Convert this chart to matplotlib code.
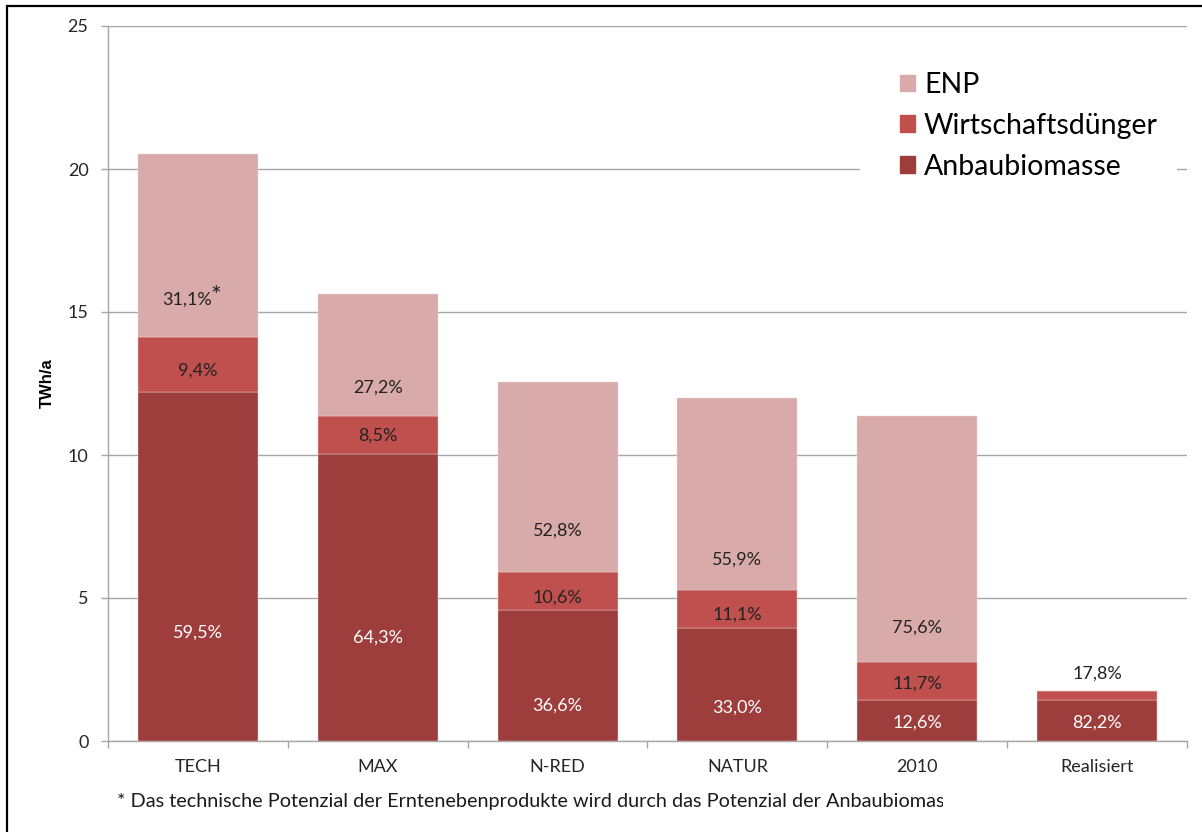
import matplotlib
matplotlib.use("Agg")
import matplotlib.pyplot as plt
from matplotlib.patches import Rectangle, Patch

plt.rcParams['font.family'] = ['Lato', 'DejaVu Sans']

# ---- data ----
categories = ["TECH", "MAX", "N-RED", "NATUR", "2010", "Realisiert"]
anbau = [12.21, 10.05, 4.59, 3.96, 1.43, 1.44]
wirt = [1.93, 1.33, 1.33, 1.33, 1.33, 0.31]
enp = [6.38, 4.25, 6.63, 6.70, 8.59, 0.0]

anbau_lbl = ["59,5%", "64,3%", "36,6%", "33,0%", "12,6%", "82,2%"]
wirt_lbl = ["9,4%", "8,5%", "10,6%", "11,1%", "11,7%", "17,8%"]
enp_lbl = ["31,1%", "27,2%", "52,8%", "55,9%", "75,6%", ""]

# label heights (data units) as placed in the original
anbau_lbl_y = [3.78, 3.60, 1.22, 1.15, 0.63, 0.63]
wirt_lbl_y = [12.94, 10.66, 5.03, 4.41, 1.99, 2.34]
enp_lbl_y = [15.42, 12.34, 7.34, 6.33, 3.95, 0]

legend_names = ["ENP", "Wirtschaftsdünger", "Anbaubiomasse"]
c_anbau, c_wirt, c_enp = "#9E3E3C", "#C0504D", "#D9AAAA"
footnote = "* Das technische Potenzial der Erntenebenprodukte wird durch das Potenzial der Anbaubiomasse begrenzt."

W, H = 1202, 832
AX_L, AX_R, AX_T, AX_B = 108, 1187, 26, 741
fig = plt.figure(figsize=(W / 100, H / 100), dpi=100)
ax = fig.add_axes([AX_L / W, 1 - AX_B / H, (AX_R - AX_L) / W, (AX_B - AX_T) / H])

x = list(range(len(categories)))
bw = 0.667
ec, elw = "#EBD5D5", 0.3
ax.bar(x, anbau, bw, color=c_anbau, edgecolor=ec, linewidth=elw, zorder=3)
ax.bar(x, wirt, bw, bottom=anbau, color=c_wirt, edgecolor=ec, linewidth=elw, zorder=3)
bottom3 = [a + w for a, w in zip(anbau, wirt)]
ax.bar(x, enp, bw, bottom=bottom3, color=c_enp, edgecolor=ec, linewidth=elw, zorder=3)

fs_lbl = 13
dark = "#222222"
for i in x:
    ax.text(i, anbau_lbl_y[i], anbau_lbl[i], ha="center", va="center", color="white", fontsize=fs_lbl, zorder=5)
    ax.text(i, wirt_lbl_y[i], wirt_lbl[i], ha="center", va="center", color=dark, fontsize=fs_lbl, zorder=5)
    if enp_lbl[i]:
        xi = i - 0.06 if i == 0 else i
        t = ax.text(xi, enp_lbl_y[i], enp_lbl[i], ha="center", va="center", color=dark, fontsize=fs_lbl, zorder=5)
        if i == 0:
            ax.annotate("*", xy=(1, 0.5), xycoords=t, xytext=(-1, 2.5), textcoords="offset points",
                        ha="left", va="center", fontsize=18, color=dark, zorder=5)

ax.set_xlim(-0.5, len(categories) - 0.5)
ax.set_ylim(0, 25)
ax.set_yticks([0, 5, 10, 15, 20, 25])
ax.yaxis.grid(True, color="#A6A6A6", linewidth=1.0, zorder=0)
ax.set_axisbelow(True)
for s in ["top", "right"]:
    ax.spines[s].set_visible(False)
for s in ["left", "bottom"]:
    ax.spines[s].set_color("#A6A6A6")
    ax.spines[s].set_linewidth(1.0)

ax.tick_params(axis="y", length=5, width=1.0, color="#A6A6A6", pad=9, labelsize=13, labelcolor="#262626")
ax.set_xticks(x)
ax.set_xticklabels(categories)
ax.set_xticks([i - 0.5 for i in range(len(categories) + 1)], minor=True)
ax.tick_params(axis="x", which="major", length=0, pad=13, labelsize=13, labelcolor="#262626")
ax.tick_params(axis="x", which="minor", length=5, width=1.0, color="#A6A6A6")

ax.set_ylabel("TWh/a", fontsize=12, fontweight="bold", family=["Liberation Sans", "DejaVu Sans"])
ax.yaxis.set_label_coords(-53 / (AX_R - AX_L), 0.5)

# white legend background that hides the gridline behind it
legbg = Rectangle((860 / W, 1 - 195 / H), (1177 - 860) / W, (195 - 50) / H, transform=fig.transFigure,
                  facecolor="white", edgecolor="none", zorder=4, clip_on=False)
ax.add_patch(legbg)

handles = [Patch(color=c_enp), Patch(color=c_wirt), Patch(color=c_anbau)]
leg = ax.legend(handles, legend_names, loc="upper left",
                bbox_to_anchor=((900 - AX_L) / (AX_R - AX_L), (AX_B - 72) / (AX_B - AX_T)),
                frameon=False, fontsize=20.5, handlelength=0.52, handleheight=0.52, handletextpad=0.32,
                labelspacing=0.52, borderpad=0, borderaxespad=0)
leg.set_zorder(6)

# footnote (cut off at the right like the original)
fig.text(117 / W, 1 - 802 / H, footnote, fontsize=14.3, va="center", ha="left", color="#1a1a1a")
mask = Rectangle((943 / W, 1 - 820 / H), 240 / W, 36 / H, transform=fig.transFigure,
                 facecolor="white", edgecolor="none", zorder=10)
fig.add_artist(mask)

# figure frame
frame = Rectangle((7 / W, -0.1), 1.2, 1.1 - 6 / H, transform=fig.transFigure,
                  fill=False, edgecolor="black", linewidth=1.6, zorder=11)
fig.add_artist(frame)

fig.savefig("out.png", dpi=100)
